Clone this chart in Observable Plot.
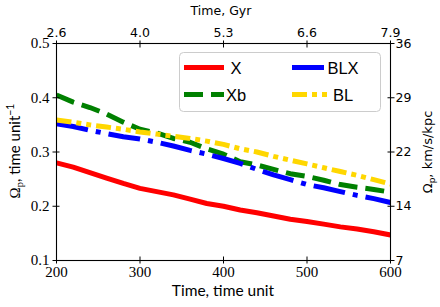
<!DOCTYPE html>
<html><head><meta charset="utf-8">
<script src="https://cdn.jsdelivr.net/npm/d3@7"></script>
<script src="https://cdn.jsdelivr.net/npm/@observablehq/plot@0.6"></script>
<style>body{margin:0;background:#fff}#chart{width:440px;height:307px;position:relative}</style>
</head><body><div id="chart"></div>
<script>
const time = [200,220,240,260,280,300,320,340,360,380,400,420,440,460,480,500,520,540,560,580,600];
const X   = [0.280,0.272,0.262,0.252,0.242,0.233,0.227,0.221,0.213,0.205,0.200,0.193,0.188,0.182,0.176,0.172,0.167,0.162,0.158,0.153,0.147];
const Xb  = [0.405,0.392,0.382,0.370,0.355,0.342,0.335,0.325,0.318,0.306,0.296,0.282,0.276,0.268,0.260,0.255,0.248,0.240,0.235,0.231,0.226];
const BLX = [0.352,0.347,0.340,0.334,0.328,0.324,0.318,0.311,0.303,0.296,0.288,0.279,0.268,0.258,0.249,0.240,0.234,0.227,0.220,0.214,0.207];
const BL  = [0.359,0.355,0.350,0.346,0.342,0.337,0.333,0.329,0.325,0.320,0.314,0.306,0.300,0.292,0.285,0.278,0.271,0.264,0.257,0.249,0.241];

const seriesNames  = ["X","Xb","BLX","BL"];
const seriesValues = [X, Xb, BLX, BL];
const seriesColors = ["#ff0000","#008000","#0000ff","#ffd700"];
const seriesDash   = [null,"19 8","32 8 5 8","15 5 5 5 5 5"];

const xTicks = [200,300,400,500,600];
const topTickLabels = ["2.6","4.0","5.3","6.6","7.9"];
const yTicks = [0.1,0.2,0.3,0.4,0.5];
const rightTickLabels = ["7","14","22","29","36"];

const rows = [];
seriesNames.forEach((name, s) => time.forEach((t, i) => rows.push({series: name, t, v: seriesValues[s][i]})));

const serif = "Liberation Serif";
const sans = "DejaVu Sans";
const lsans = "Lato";

const plot = Plot.plot({
  width: 440, height: 307,
  marginLeft: 56, marginRight: 50, marginTop: 43, marginBottom: 47,
  style: {background: "white", color: "black"},
  x: {domain: [200, 600]},
  y: {domain: [0.1, 0.5]},
  marks: [
    ...seriesNames.map((name, s) => Plot.line(rows.filter(r => r.series === name), {
      x: "t", y: "v", stroke: seriesColors[s], strokeWidth: 5,
      strokeDasharray: seriesDash[s], strokeLinecap: "butt", strokeLinejoin: "round", clip: true
    })),
    Plot.frame({stroke: "black", strokeWidth: 1.1}),
    Plot.axisX(xTicks, {anchor: "bottom", tickSize: 7, dy: -3.5, tickPadding: 2.5, fontFamily: serif, fontSize: 15, tickFormat: d => String(d), label: null}),
    Plot.axisX(xTicks, {anchor: "top", tickSize: 7, dy: 3.5, tickPadding: 3.5, fontFamily: sans, fontSize: 12.5, tickFormat: d => topTickLabels[xTicks.indexOf(d)], label: null}),
    Plot.axisY(yTicks, {anchor: "left", tickSize: 7, dx: 3.5, tickPadding: 3.5, fontFamily: serif, fontSize: 15, tickFormat: d => d.toFixed(1), label: null}),
    Plot.axisY(yTicks, {anchor: "right", tickSize: 7, dx: -3.5, tickPadding: 1.5, fontFamily: sans, fontSize: 12.5, tickFormat: d => rightTickLabels[yTicks.indexOf(d)], label: null})
  ]
});

document.getElementById("chart").appendChild(plot);
const svg = d3.select(plot);

// Axis titles
svg.append("text").attr("x", 223).attr("y", 296).attr("text-anchor", "middle")
  .attr("font-family", lsans).attr("font-size", 15.5).attr("fill", "black")
  .text("Time, time unit");
svg.append("text").attr("x", 221).attr("y", 15).attr("text-anchor", "middle")
  .attr("font-family", sans).attr("font-size", 12.5).attr("fill", "black")
  .text("Time, Gyr");

const ly = svg.append("text").attr("transform", "translate(20,151) rotate(-90)").attr("text-anchor", "middle")
  .attr("font-family", lsans).attr("font-size", 15).attr("fill", "black");
ly.append("tspan").attr("font-family", serif).text("Ω");
ly.append("tspan").attr("font-family", serif).attr("font-size", 10.5).attr("dy", 3).text("p");
ly.append("tspan").attr("dy", -3).text(", time unit");
ly.append("tspan").attr("font-size", 10.5).attr("dy", -6).text("−1");

const ry = svg.append("text").attr("transform", "translate(432,152) rotate(-90)").attr("text-anchor", "middle")
  .attr("font-family", sans).attr("font-size", 13).attr("fill", "black");
ry.append("tspan").text("Ω");
ry.append("tspan").attr("font-size", 9).attr("dy", 2.5).text("p");
ry.append("tspan").attr("dy", -2.5).text(", km/s/kpc");

// Legend
const lg = svg.append("g");
lg.append("rect").attr("x", 179.5).attr("y", 52.5).attr("width", 201).attr("height", 59).attr("rx", 4)
  .attr("fill", "white").attr("fill-opacity", 0.8).attr("stroke", "#cccccc").attr("stroke-width", 1);
seriesNames.forEach((name, s) => {
  const col = Math.floor(s / 2), row = s % 2;
  const x0 = col === 0 ? 184 : 292;
  const tx = col === 0 ? 236 : 343;
  const yy = row === 0 ? 67.5 : 94.5;
  lg.append("line").attr("x1", x0).attr("x2", x0 + 40).attr("y1", yy).attr("y2", yy)
    .attr("stroke", seriesColors[s]).attr("stroke-width", 5)
    .attr("stroke-dasharray", seriesDash[s]).attr("stroke-linecap", "butt");
  lg.append("text").attr("x", tx).attr("y", yy + 6.5).attr("font-family", "Liberation Sans").attr("font-size", 16.5)
    .attr("fill", "black").text(name);
});
</script>
</body></html>
